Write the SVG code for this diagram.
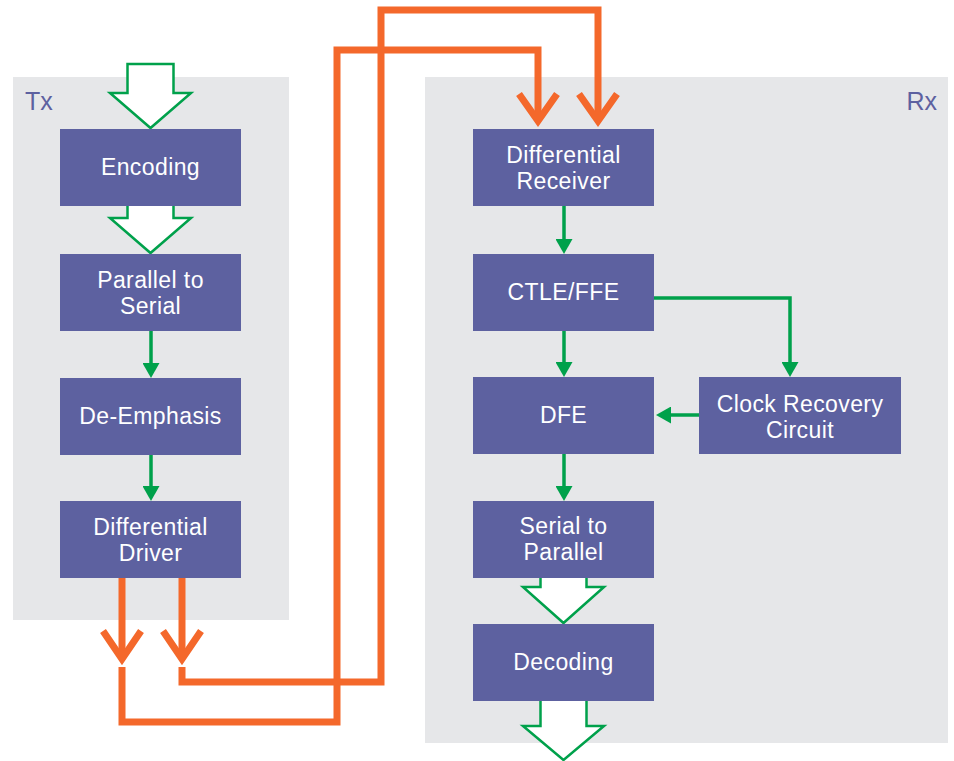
<svg xmlns="http://www.w3.org/2000/svg" width="954" height="761" viewBox="0 0 954 761">
<style>
.panel{fill:#E6E7E9}
.node{fill:#5D61A0}
.lbl{font-family:"Liberation Sans",Arial,sans-serif;font-size:23px;letter-spacing:0.4px;fill:#FFFFFF;text-anchor:middle}
.plbl{font-family:"Liberation Sans",Arial,sans-serif;font-size:25px;fill:#5D61A0}
.hollow{fill:#FFFFFF;stroke:#00A14B;stroke-width:2.5;stroke-linejoin:miter}
.g{fill:none;stroke:#00A14B;stroke-width:3.5}
.o{fill:none;stroke:#F4682B;stroke-width:7;stroke-linejoin:miter;stroke-miterlimit:10}
</style>
<defs>
<marker id="ga" markerUnits="userSpaceOnUse" markerWidth="15" markerHeight="17" refX="5" refY="8.5" orient="auto">
<path d="M0,0 L15,8.5 L0,17 z" fill="#00A14B"/>
</marker>
</defs>
<rect width="954" height="761" fill="#FFFFFF"/>
<g id="tx-panel"><rect class="panel" x="13" y="77" width="276" height="543"/><text class="plbl" x="25" y="110">Tx</text></g>
<g id="rx-panel"><rect class="panel" x="425" y="77" width="523" height="666"/><text class="plbl" x="937" y="110" text-anchor="end">Rx</text></g>
<g id="hollow-arrows">
<polygon class="hollow" points="127.5,64 173.5,64 173.5,93 191,93 150.5,128 110,93 127.5,93"/>
<polygon class="hollow" points="127.5,200 173.5,200 173.5,218 191,218 150.5,253 110,218 127.5,218"/>
<polygon class="hollow" points="540.5,572 586.5,572 586.5,587 604,587 563.5,623 523,587 540.5,587"/>
<polygon class="hollow" points="540.5,695 586.5,695 586.5,726 604,726 563.5,760 523,726 540.5,726"/>
</g>
<g id="encoding"><rect class="node" x="60" y="129" width="181" height="77"/><text class="lbl" x="150.5" y="175">Encoding</text></g>
<g id="parallel-to-serial"><rect class="node" x="60" y="254" width="181" height="77"/><text class="lbl" x="150.5" y="288">Parallel to</text><text class="lbl" x="150.5" y="314">Serial</text></g>
<g id="de-emphasis"><rect class="node" x="60" y="378" width="181" height="77"/><text class="lbl" x="150.5" y="424">De-Emphasis</text></g>
<g id="differential-driver"><rect class="node" x="60" y="501" width="181" height="77"/><text class="lbl" x="150.5" y="535">Differential</text><text class="lbl" x="150.5" y="561">Driver</text></g>
<g id="differential-receiver"><rect class="node" x="473" y="129" width="181" height="77"/><text class="lbl" x="563.5" y="163">Differential</text><text class="lbl" x="563.5" y="189">Receiver</text></g>
<g id="ctle-ffe"><rect class="node" x="473" y="254" width="181" height="77"/><text class="lbl" x="563.5" y="300">CTLE/FFE</text></g>
<g id="dfe"><rect class="node" x="473" y="377" width="181" height="77"/><text class="lbl" x="563.5" y="423">DFE</text></g>
<g id="clock-recovery"><rect class="node" x="699" y="377" width="202" height="77"/><text class="lbl" x="800" y="412">Clock Recovery</text><text class="lbl" x="800" y="438">Circuit</text></g>
<g id="serial-to-parallel"><rect class="node" x="473" y="501" width="181" height="77"/><text class="lbl" x="563.5" y="534">Serial to</text><text class="lbl" x="563.5" y="560">Parallel</text></g>
<g id="decoding"><rect class="node" x="473" y="624" width="181" height="77"/><text class="lbl" x="563.5" y="670">Decoding</text></g>
<g id="connectors">
<path class="g" d="M151,331 V368" marker-end="url(#ga)"/>
<path class="g" d="M151,455 V491" marker-end="url(#ga)"/>
<path class="g" d="M564,206 V244" marker-end="url(#ga)"/>
<path class="g" d="M564,331 V367" marker-end="url(#ga)"/>
<path class="g" d="M564,454 V491" marker-end="url(#ga)"/>
<path class="g" d="M654,298 H790 V367" marker-end="url(#ga)"/>
<path class="g" d="M699,415 H666" marker-end="url(#ga)"/>
<path class="o" d="M122,578 V659"/>
<polyline class="o" points="103,631 122,659 141,631"/>
<path class="o" d="M122,667 V722 H337 V50 H538 V121"/>
<polyline class="o" points="519,94 538,121 557,94"/>
<path class="o" d="M182,578 V659"/>
<polyline class="o" points="163,631 182,659 201,631"/>
<path class="o" d="M182,667 V682 H381 V10 H598 V121"/>
<polyline class="o" points="579,94 598,121 617,94"/>
</g>
</svg>
